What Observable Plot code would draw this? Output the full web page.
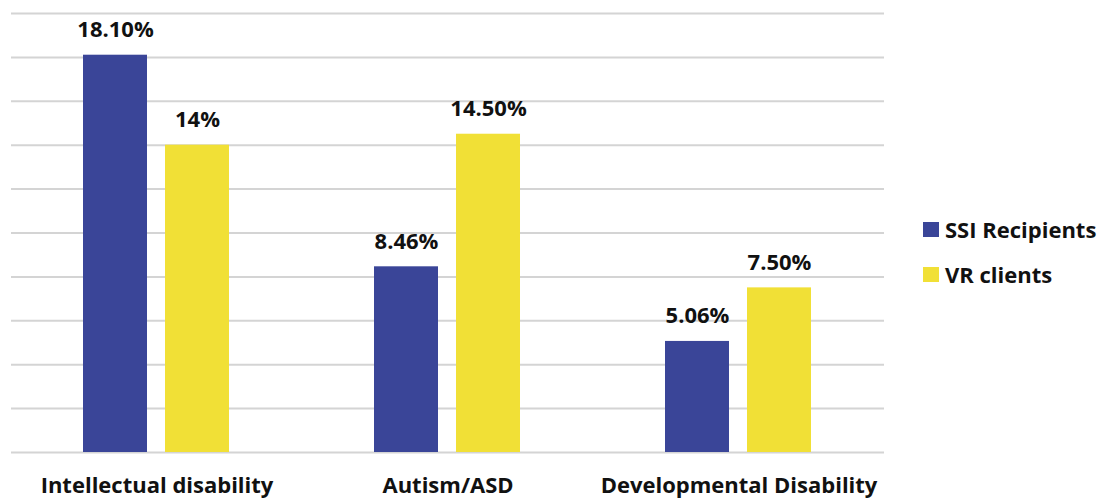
<!DOCTYPE html>
<html>
<head>
<meta charset="utf-8">
<script src="https://cdn.jsdelivr.net/npm/d3@7"></script>
<script src="https://cdn.jsdelivr.net/npm/@observablehq/plot@0.6"></script>
<style>
  html, body { margin: 0; padding: 0; background: #fff; }
  #wrap { position: relative; width: 1102px; height: 498px; overflow: hidden; font-family: "Open Sans", Lato, sans-serif; }
  #legend { position: absolute; left: 923px; top: 216px; font-weight: bold; font-size: 22px; color: #111; }
  #legend .row { display: flex; align-items: center; height: 26px; margin-bottom: 19px; white-space: nowrap; }
  #legend .sw { width: 16px; height: 15px; margin-right: 6px; }
</style>
</head>
<body>
<div id="wrap"><div id="legend"></div></div>
<script>
// Disability categories and the two compared populations
const categories = ["Intellectual disability", "Autism/ASD", "Developmental Disability"];
const series = ["SSI Recipients", "VR clients"];
const colors = ["#3a4598", "#f1e036"];

// Share of each population (percent), per category
const ssiValues = [18.10, 8.46, 5.06];
const vrValues = [14.00, 14.50, 7.50];

// Value labels as printed above the bars
const ssiLabels = ["18.10%", "8.46%", "5.06%"];
const vrLabels = ["14%", "14.50%", "7.50%"];

// Gridline values (percent)
const gridTicks = [0, 2, 4, 6, 8, 10, 12, 14, 16, 18, 20];

const data = [
  ...categories.map((c, i) => ({category: c, series: series[0], value: ssiValues[i], label: ssiLabels[i]})),
  ...categories.map((c, i) => ({category: c, series: series[1], value: vrValues[i], label: vrLabels[i]}))
];

const font = "'Open Sans', Lato, sans-serif";

const chart = Plot.plot({
  width: 1102,
  height: 498,
  marginTop: 13,
  marginBottom: 46,
  marginLeft: 10,
  marginRight: 218,
  style: {fontFamily: font, background: "#fff"},
  fx: {domain: categories, padding: 0, label: null},
  x: {domain: series, paddingInner: 0.217, paddingOuter: 0.863, axis: null},
  y: {domain: [0, 20], axis: null},
  color: {domain: series, range: colors},
  marks: [
    Plot.ruleY(gridTicks, {stroke: "#d4d4d4", strokeWidth: 2}),
    Plot.barY(data, {fx: "category", x: "series", y: "value", fill: "series"}),
    Plot.text(data, {
      fx: "category", x: "series", y: "value", text: "label",
      dy: -25, fontSize: 22, fontWeight: "bold", fill: "#111"
    }),
    Plot.axisFx({
      anchor: "bottom", tickSize: 0, tickPadding: 25, label: null,
      fontSize: 22, fontWeight: "bold", fill: "#111"
    })
  ]
});

const wrap = document.getElementById("wrap");
wrap.insertBefore(chart, wrap.firstChild);

// Legend swatches
const legend = d3.select("#legend");
series.forEach((s, i) => {
  const row = legend.append("div").attr("class", "row");
  row.append("div").attr("class", "sw").style("background", colors[i]);
  row.append("span").text(s);
});
</script>
</body>
</html>
